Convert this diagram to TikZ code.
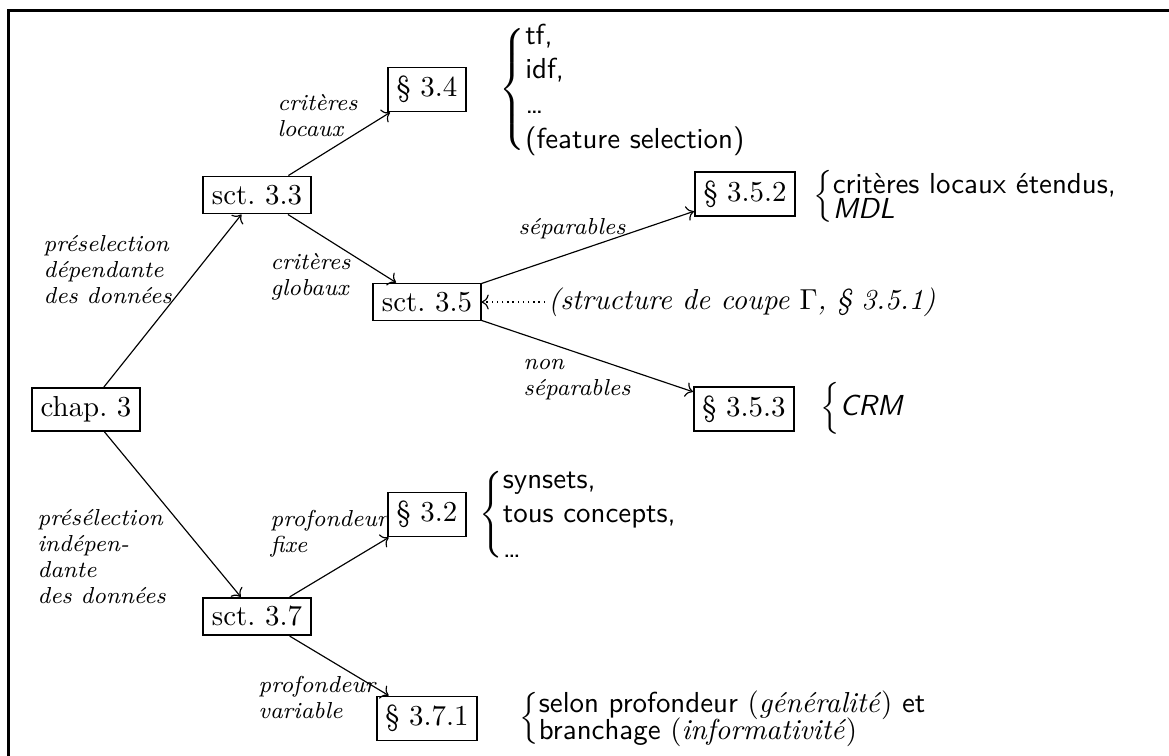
\documentclass[tikz,border=0pt]{standalone}
\usepackage{fontspec}
\usetikzlibrary{arrows.meta}

% brace-led list: #1 = line pitch, #2 = \hbox lines
\newcommand\brlist[2]{$\left\{\vcenter{\baselineskip=#1\relax\lineskiplimit=-100pt\relax #2}\right.$}

\begin{document}
\begin{tikzpicture}[
  x=0.346pt, y=-0.346pt,
  bx/.style={draw, line width=0.6pt, inner sep=3pt, font=\rmfamily},
  lbl/.style={align=left, anchor=west, inner sep=0pt, font=\fontsize{8}{9}\selectfont\itshape},
  lst/.style={anchor=west, inner sep=0pt, font=\sffamily},
  arr/.style={-{Computer Modern Rightarrow}, line width=0.4pt},
]
\useasboundingbox (0,0) rectangle (1169,755);

% outer frame (top and left rules)
\draw[line width=0.75pt] (8.5,770) -- (8.5,10.5) -- (1180,10.5);

% section boxes
\node[bx] (chap) at (86,409.5) {chap.~3};
\node[bx] (s33)  at (257,195)   {sct.~3.3};
\node[bx] (s37)  at (257,616.5) {sct.~3.7};
\node[bx] (p34)  at (427,89.5)  {\S~3.4};
\node[bx] (s35)  at (427,302)   {sct.~3.5};
\node[bx] (p32)  at (427,514.5) {\S~3.2};
\node[bx] (p371) at (427,718.5) {\S~3.7.1};
\node[bx] (p352) at (745,194)   {\S~3.5.2};
\node[bx] (p353) at (744,409)   {\S~3.5.3};

% connectors
\draw[arr] (chap) -- (s33);
\draw[arr] (chap) -- (s37);
\draw[arr] (s33) -- (p34);
\draw[arr] (s33) -- (s35);
\draw[arr] (s35) -- (p352);
\draw[arr] (s35) -- (p353);
\draw[arr] (s37) -- (p32);
\draw[arr] (s37) -- (p371);

% cut structure remark
\node[anchor=west, inner sep=1pt, font=\itshape] (cut) at (545,302)
  {(structure de coupe $\Gamma$, \S~3.5.1)};
\draw[-{Computer Modern Rightarrow}, line width=0.4pt, dash pattern=on 0.5pt off 1.3pt] (cut) -- (s35);

% edge labels
\node[lbl] (l1) at (277,116) {critères\\locaux};
\node[lbl] (l2) at (43,270)  {préselection\\dépendante\\des données};
\node[lbl] (l3) at (270,277) {critères\\globaux};
\node[lbl] (l4) at (518,229) {séparables};
\node[lbl] (l5) at (523,380) {non\\séparables};
\node[lbl] (l6) at (37,557)  {présélection\\indépen-\\dante\\des données};
\node[lbl] (l7) at (270,534) {profondeur\\fixe};
\node[lbl] (l8) at (258,697) {profondeur\\variable};

% brace lists
\node[lst] (t34) at (499,89.5)
  {\brlist{12pt}{\hbox{tf,}\hbox{idf,}\hbox{\dots}\hbox{(feature selection)}}};
\node[lst] (t352) at (813,196)
  {\brlist{8.7pt}{\hbox{critères locaux étendus,}\hbox{\itshape MDL}}};
\node[lst] (t353) at (820,408) {$\Big\{$\textit{CRM}};
\node[lst] (t32) at (479,514.5)
  {\brlist{12pt}{\hbox{synsets,}\hbox{tous concepts,}\hbox{\dots}}};
\node[lst] (t371) at (519,718.5)
  {\brlist{9.3pt}{\hbox{selon profondeur {\rmfamily(\textit{généralité})} et}\hbox{branchage {\rmfamily(\textit{informativité})}}}};
\end{tikzpicture}
\end{document}
